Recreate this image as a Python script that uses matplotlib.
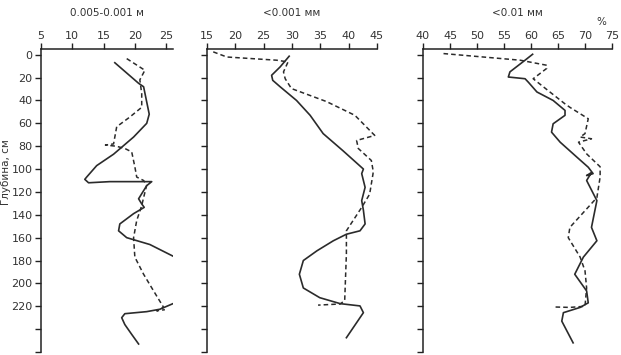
import numpy as np
import matplotlib
matplotlib.use("Agg")
import matplotlib.pyplot as plt

# depth, cm / value, %
p1_solid_d = [7, 25, 28, 52, 60, 72, 87, 97, 107, 109, 112, 111, 111, 114.5, 126, 130.5, 133.5,
              139, 148, 154, 160, 166, 177, 197, 217, 222.6, 224.7, 226.5, 230, 236, 244.6, 253]
p1_solid_v = [16.8, 20.6, 21.4, 22.3, 21.9, 19.8, 16.6, 13.9, 12.3, 12.0, 12.6, 16.0, 22.7, 21.9,
              20.6, 21.1, 21.5, 19.8, 17.6, 17.4, 18.7, 22.4, 26.4, 30.0, 26.4, 24.0, 21.9, 18.4,
              17.9, 18.4, 19.5, 20.6]
p1_dash_d = [3.4, 13.6, 22, 34, 46, 54.5, 63, 78, 79, 80, 82, 85, 98, 107, 110, 114, 125, 132,
             145, 160, 177, 192, 206.6, 221, 224, 223]
p1_dash_v = [18.7, 21.6, 20.8, 21.1, 21.1, 19.2, 17.1, 16.6, 15.3, 17.0, 18.4, 19.5, 20.0, 20.3,
             21.4, 21.9, 21.4, 21.1, 20.3, 19.8, 20.0, 21.4, 23.0, 24.6, 23.5, 24.8]

p2_solid_d = [1.3, 10.7, 18, 22.4, 28, 40, 53, 69, 84, 100, 104, 116, 127.6, 136, 148, 154, 157,
              162.7, 171.5, 180, 192, 204, 212.5, 217.7, 219.7, 225.6, 247.5]
p2_solid_v = [29.5, 27.9, 26.4, 26.6, 27.9, 30.8, 33.2, 35.5, 39.0, 42.6, 42.3, 42.9, 42.3, 42.6,
              42.9, 42.0, 39.6, 37.3, 34.4, 32.0, 31.3, 32.0, 34.9, 38.5, 42.0, 42.6, 39.6]
p2_dash_d = [-2.5, 2, 4.8, 6.3, 15, 21, 29.6, 41, 53, 70.6, 75, 82, 92.5, 101, 104, 122, 133.5,
             154, 174, 215, 218, 219]
p2_dash_v = [16.1, 18.5, 27.3, 29.3, 28.5, 28.8, 29.9, 36.1, 41.1, 44.6, 41.4, 41.7, 44.0, 44.3,
             44.3, 43.7, 42.3, 39.6, 39.6, 39.3, 38.5, 34.6]

p3_solid_d = [-0.4, 4.8, 15, 19.5, 21, 24, 32.6, 40, 48.7, 53, 60.4, 67.7, 76.5, 89.6, 98.4, 104,
              105.7, 103, 110, 127.6, 151, 162.7, 177, 192, 206.6, 217, 221, 225.6, 233, 252]
p3_solid_v = [60.3, 58.9, 56.1, 55.8, 58.9, 59.5, 61.1, 64.1, 66.3, 66.3, 64.1, 63.8, 65.4, 68.5,
              70.6, 71.5, 70.3, 71.2, 70.3, 72.2, 71.2, 72.2, 69.7, 68.1, 70.3, 70.6, 69.1, 66.0,
              65.7, 67.8]
p3_dash_d = [-1, 4.8, 9.2, 12, 21, 32.6, 43, 46, 56, 69, 72, 73.5, 76.5, 86.7, 98, 107, 125, 138,
             151, 160, 177, 189, 204, 220, 221, 220.6]
p3_dash_v = [43.8, 58.0, 62.9, 62.9, 60.4, 63.5, 66.3, 67.2, 70.6, 70.0, 69.1, 71.2, 68.8, 70.3,
             72.8, 72.8, 72.2, 69.7, 67.2, 66.9, 69.1, 70.0, 70.3, 70.0, 67.2, 64.1]

titles = ["0.005-0.001 м", "<0.001 мм", "<0.01 мм"]
xlims = [(5, 26.1), (15, 45), (40, 75)]
xticks = [[5, 10, 15, 20, 25], [15, 20, 25, 30, 35, 40, 45], [40, 45, 50, 55, 60, 65, 70, 75]]
depth_ticks = list(range(0, 261, 20))
depth_labels = [str(t) if t <= 220 else "" for t in depth_ticks]

panels = [
    (p1_solid_v, p1_solid_d, p1_dash_v, p1_dash_d),
    (p2_solid_v, p2_solid_d, p2_dash_v, p2_dash_d),
    (p3_solid_v, p3_solid_d, p3_dash_v, p3_dash_d),
]

fig = plt.figure(figsize=(6.21, 3.55), dpi=100)
rects = [
    [41 / 621, 3 / 355, 132 / 621, 303 / 355],
    [207 / 621, 3 / 355, 170 / 621, 303 / 355],
    [423 / 621, 3 / 355, 189 / 621, 303 / 355],
]
line_col = "#2b2b2b"

for i, (rect, (sv, sd, dv, dd)) in enumerate(zip(rects, panels)):
    ax = fig.add_axes(rect)
    ax.plot(sv, sd, color=line_col, lw=1.2)
    ax.plot(dv, dd, color=line_col, lw=1.1, dashes=(3, 2))
    ax.set_xlim(*xlims[i])
    ax.set_ylim(260, -5)
    ax.xaxis.tick_top()
    ax.set_xticks(xticks[i])
    ax.set_yticks(depth_ticks)
    if i == 0:
        ax.set_yticklabels(depth_labels)
    else:
        ax.set_yticklabels([])
    for s in ["right", "bottom"]:
        ax.spines[s].set_visible(False)
    for s in ["left", "top"]:
        ax.spines[s].set_linewidth(1.1)
        ax.spines[s].set_color("#222222")
    ax.tick_params(axis="both", direction="out", length=4, width=1, colors="#222222",
                   labelsize=8, pad=2, labelcolor="#333333")
    cx = rect[0] + rect[2] / 2
    fig.text(cx, 1 - 13 / 355, titles[i], ha="center", va="center", fontsize=7.5, color="#333333")

fig.text(601 / 621, 1 - 22 / 355, "%", ha="center", va="center", fontsize=7.5, color="#333333")
fig.text(6 / 621, 1 - 172 / 355, "Глубина, см", rotation=90, ha="center", va="center",
         fontsize=7.5, color="#333333")

fig.savefig("out.png", dpi=100)
